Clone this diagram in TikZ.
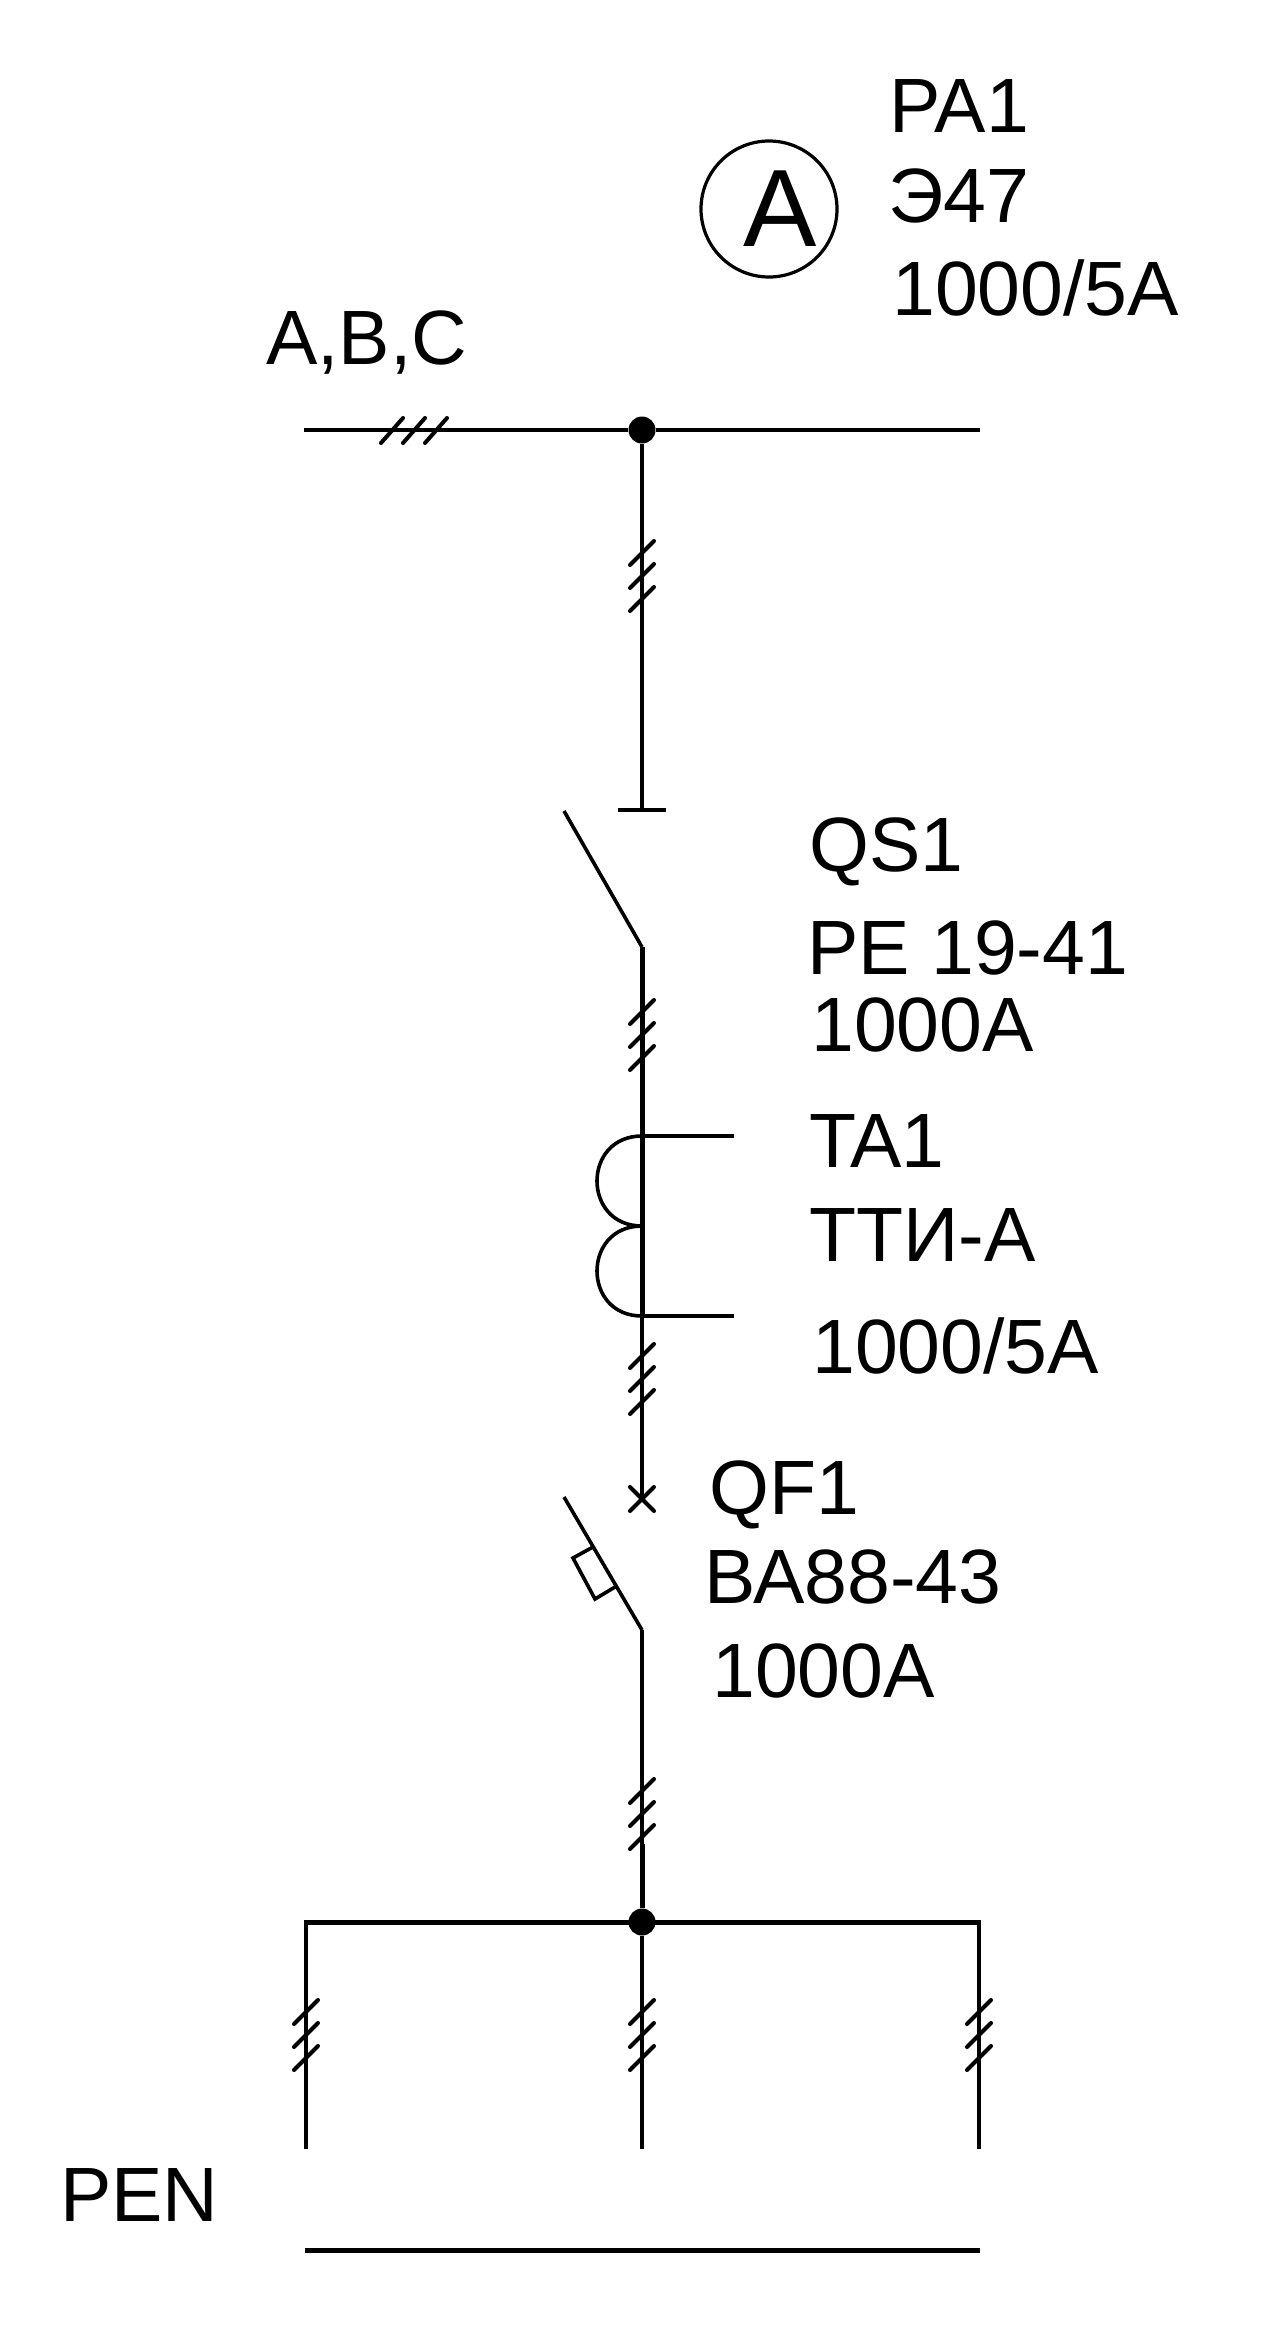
\documentclass[tikz,border=0pt]{standalone}
\usepackage{fontspec}
\setmainfont{Liberation Sans}
\usetikzlibrary{calc}

\tikzset{
 lab/.style={anchor=base west, inner sep=0, font=\fontsize{77}{77}\selectfont},
 dot/.style={circle, fill=black, inner sep=0, minimum size=27},
 wire/.style={black, line width=3.6},
 heavy/.style={black, line width=5},
 tick/.style={black, line width=4, line cap=round}
}

\begin{document}
\begin{tikzpicture} [x=1pt, y=-1pt]
\useasboundingbox (0,0) rectangle (1280,2326);
% top bus
\coordinate (busL) at (304,430);
\coordinate (busR) at (980,430);
\node[dot] (topJ) at (642,430) {};
\draw[wire] (busL)--(topJ)--(busR);
\foreach \x in {392,414,436} {
 \draw[tick] (\x-11,443)--(\x+11,418);
}
\node[lab] (abc) at (266,364) {A,B,C};
% ammeter
\node[circle, draw=black, line width=3.2, inner sep=0, minimum size=136] (meter) at (769,209) {};
\node[inner sep=0, font=\fontsize{110}{110}\selectfont] (meterA) at (780,209) {A};
\node[lab] (pa1) at (889,132) {PA1};
\node[lab] (pa2) at (888,222) {Э47};
\node[lab] (pa3) at (892,315) {1000/5A};
% disconnector
\coordinate (qsTop) at (642,810);
\coordinate (qsBarL) at (618,810);
\coordinate (qsBarR) at (666,810);
\coordinate (qsFree) at (564,811);
\coordinate (qsPiv) at (642,947);
\draw[wire] (topJ)--(qsTop);
\draw[wire] (qsBarL)--(qsBarR);
\draw[wire, line join=round] (qsFree)--(qsPiv);
\node[lab] (qs1) at (809,871) {QS1};
\node[lab] (qs2) at (807,974) {РЕ 19-41};
\node[lab] (qs3) at (811,1051) {1000A};
% current transformer
\coordinate (taTop) at (642,1136);
\coordinate (taMid) at (642,1226);
\coordinate (taBot) at (642,1316);
\coordinate (taOutT) at (734,1136);
\coordinate (taOutB) at (734,1316);
\draw[heavy] (qsPiv)--(taBot);
\draw[wire] (taTop)--(taOutT);
\draw[wire] (taBot)--(taOutB);
\draw[wire] (taTop) .. controls +(-60,0) and +(-60,0) .. (taMid);
\draw[wire] (taMid) .. controls +(-60,0) and +(-60,0) .. (taBot);
\node[lab] (ta1) at (809,1167) {TA1};
\node[lab] (ta2) at (809,1261) {ТТИ-А};
\node[lab] (ta3) at (812,1373) {1000/5A};
% breaker
\coordinate (qfCross) at (642,1499);
\coordinate (qfFree) at (564,1497);
\coordinate (qfPiv) at (642,1630);
\coordinate (heatA) at (593,1547);
\coordinate (heatB) at (573,1558);
\coordinate (heatC) at (595,1599);
\coordinate (heatD) at (615,1587);
\draw[wire] (taBot)--(qfCross);
\draw[tick] (630,1487)--(654,1511);
\draw[tick] (654,1487)--(630,1511);
\draw[wire, line join=round] (qfFree)--(qfPiv);
\draw[wire] (heatA)--(heatB)--(heatC)--(heatD);
\node[lab] (qf1) at (709,1514) {QF1};
\node[lab] (qf2) at (704,1603) {ВА88-43};
\node[lab] (qf3) at (712,1697) {1000A};
% lower bus
\node[dot] (lowJ) at (642,1922) {};
\coordinate (lowL) at (306,1922);
\coordinate (lowR) at (979,1922);
\coordinate (endL) at (306,2149);
\coordinate (endM) at (642,2149);
\coordinate (endR) at (979,2149);
\draw[wire] (qfPiv)--(lowJ);
\draw[heavy] ($(lowJ)+(0,-78)$)--(lowJ);
\draw[heavy, line join=miter] (lowL)--(lowR);
\draw[wire, line join=miter] (endL)--(lowL)--(lowR)--(endR);
\draw[wire] (lowJ)--(endM);
\coordinate (penL) at (305,2250);
\coordinate (penR) at (980,2250);
\draw[heavy] (penL)--(penR);
\node[lab] (pen) at (60,2221) {PEN};
% three wire marks
\foreach \tx/\ty in {642/576, 642/1035, 642/1379, 642/1814, 306/2035, 642/2035, 979/2035} {
 \foreach \d in {-23,0,23} {
  \draw[tick] (\tx-12,\ty+\d+12)--(\tx+12,\ty+\d-12);
 }
}
\end{tikzpicture}
\end{document}
